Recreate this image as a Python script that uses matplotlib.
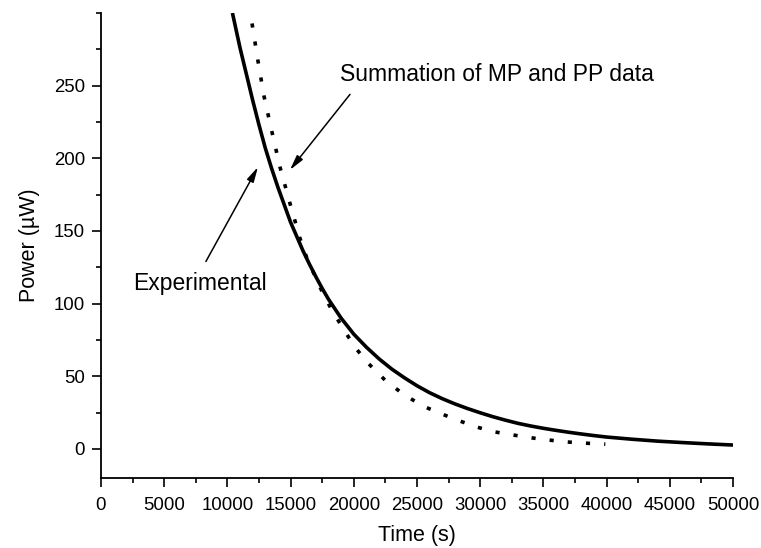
import matplotlib
matplotlib.use("Agg")
import matplotlib.pyplot as plt
from matplotlib.ticker import MultipleLocator

plt.rcParams['font.family'] = ['Liberation Sans', 'DejaVu Sans']

# experimental curve (solid)
exp_t = [10400, 11000, 11500, 12000, 12500, 13000, 13500, 14000, 14500, 15000,
         15500, 16000, 16500, 17000, 17500, 18000, 19000, 20000, 21000, 22000,
         23000, 24000, 25000, 26000, 27000, 28000, 29000, 30000, 31000, 32000,
         33000, 34000, 35000, 36000, 37000, 38000, 39000, 40000, 42000, 44000,
         46000, 48000, 50000]
exp_p = [300, 276, 258, 240, 223, 207, 193, 180, 168, 156,
         146, 136, 127, 118.5, 110.5, 103, 90, 79, 70, 62,
         55, 49, 43.5, 38.7, 34.6, 31, 27.8, 24.9, 22.2, 19.8,
         17.6, 15.8, 14.2, 12.8, 11.5, 10.3, 9.2, 8.2, 6.7, 5.4,
         4.4, 3.5, 2.7]

# summation of MP and PP data (dotted)
sum_t = [11950, 12420, 12900, 13530, 14160, 14950, 15740, 16300, 16930, 17560,
         18270, 19150, 20090, 21200, 22630, 24050, 25470, 26980, 28400, 29750,
         31170, 32600, 34100, 35360, 36870, 38290, 39900]
sum_p = [292.8, 267, 242.6, 218, 194, 169, 145, 131, 119, 107,
         95.5, 83, 70, 58.4, 46, 37, 29.5, 24, 19.2, 15,
         11.7, 9.6, 7.6, 6.2, 4.8, 4.0, 3.3]

fig = plt.figure(figsize=(7.61, 5.48), dpi=100)
ax = fig.add_axes([0.1327, 0.1277, 0.8305, 0.8486])

ax.plot(exp_t, exp_p, color='black', lw=2.6, solid_capstyle='butt')
ax.plot(sum_t, sum_p, color='black', lw=2.6, linestyle=(0, (1.15, 3.9)))

ax.set_xlim(0, 50000)
ax.set_ylim(-20, 300)
ax.xaxis.set_major_locator(MultipleLocator(5000))
ax.xaxis.set_minor_locator(MultipleLocator(2500))
ax.set_yticks([0, 50, 100, 150, 200, 250])
ax.yaxis.set_minor_locator(MultipleLocator(25))

ax.spines['top'].set_visible(False)
ax.spines['right'].set_visible(False)
for s in ['left', 'bottom']:
    ax.spines[s].set_linewidth(1.3)
ax.tick_params(which='major', direction='out', length=6.5, width=1.2, labelsize=13.4, pad=5)
ax.tick_params(axis='x', which='major', pad=7)
ax.tick_params(which='minor', direction='out', length=3.5, width=1.2)

ax.set_xlabel('Time (s)', fontsize=15.5, labelpad=8)
ax.set_ylabel('Power (µW)', fontsize=15.5, labelpad=10)

arrow = dict(arrowstyle='-|>,head_length=0.9,head_width=0.22', color='black', lw=1.1,
             shrinkA=0, shrinkB=0)
ax.annotate('', xy=(14950, 192), xytext=(19700, 244), arrowprops=arrow)
ax.annotate('', xy=(12420, 194), xytext=(8300, 129), arrowprops=arrow)
ax.text(18900, 258, 'Summation of MP and PP data', fontsize=16.5, va='center', ha='left')
ax.text(2530, 114, 'Experimental', fontsize=16.5, va='center', ha='left')

fig.savefig('out.png', dpi=100)
